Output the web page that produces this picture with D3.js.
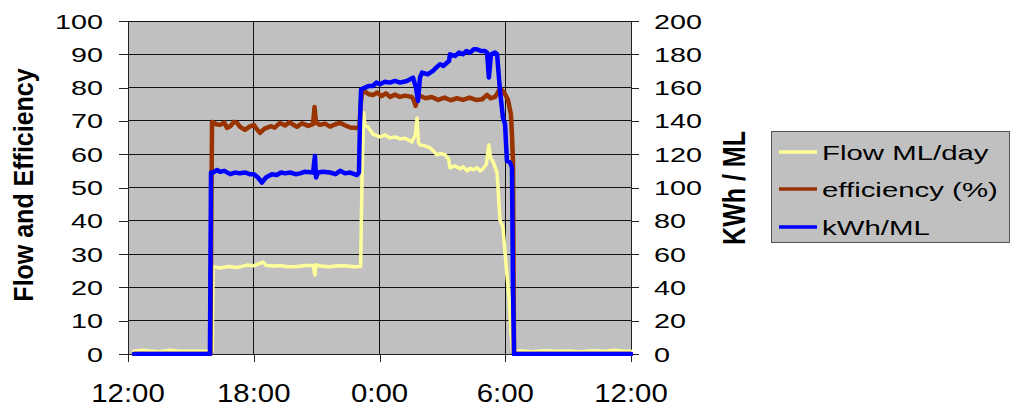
<!DOCTYPE html>
<html>
<head>
<meta charset="utf-8">
<script src="https://cdn.jsdelivr.net/npm/d3@7/dist/d3.min.js"></script>
<style>
  html, body { margin: 0; padding: 0; background: #ffffff; }
  svg { display: block; }
  text { font-family: "Liberation Sans", Arial, sans-serif; fill: #000; }
</style>
</head>
<body>
<svg id="chart" width="1012" height="407"></svg>
<script>
// ---- Data (hours since 12:00 noon) ----
const xTickHours = [0, 6, 12, 18, 24];
const xTickLabels = ["12:00", "18:00", "0:00", "6:00", "12:00"];
const leftTicks = [0, 10, 20, 30, 40, 50, 60, 70, 80, 90, 100];
const rightTicks = [0, 20, 40, 60, 80, 100, 120, 140, 160, 180, 200];
const seriesNames = ["Flow ML/day", "efficiency (%)", "kWh/ML"];

const flowT = [0.29, 0.7, 1.0, 1.5, 2.0, 2.5, 3.0, 3.5, 3.9, 4.02, 4.06, 4.4, 4.8, 5.2, 5.5, 5.68, 6.0, 6.44, 6.6, 7.0, 7.25, 7.6, 8.06, 8.5, 8.83, 8.92, 8.97, 9.16, 9.6, 10.0, 10.45, 10.8, 11.1, 11.17, 11.24, 11.31, 11.45, 11.69, 12.02, 12.26, 12.5, 12.74, 12.98, 13.22, 13.55, 13.72, 13.79, 13.86, 13.93, 14.17, 14.41, 14.6, 14.74, 14.9, 15.13, 15.3, 15.36, 15.6, 15.84, 15.98, 16.18, 16.32, 16.46, 16.65, 16.8, 16.94, 17.1, 17.22, 17.3, 17.42, 17.51, 17.61, 17.75, 17.89, 18.08, 18.18, 18.27, 18.35, 18.8, 19.3, 19.8, 20.4, 21.0, 21.6, 22.1, 22.7, 23.2, 23.6, 24.0];
const flowV = [0.8, 1.1, 0.9, 0.7, 1.1, 0.8, 0.9, 0.8, 0.9, 1.0, 26.2, 25.8, 26.3, 26.0, 26.4, 26.7, 26.5, 27.6, 26.6, 26.4, 26.6, 26.2, 26.3, 26.6, 26.6, 23.7, 26.8, 26.4, 26.2, 26.5, 26.4, 26.2, 26.3, 54, 72.5, 68.5, 68.2, 66.0, 65.2, 65.8, 64.9, 65.2, 64.6, 64.8, 63.7, 66.0, 70.9, 63.5, 62.8, 62.5, 61.9, 60.8, 59.8, 60.2, 59.8, 58.5, 55.9, 56.5, 55.6, 56.2, 55.0, 55.8, 55.3, 55.9, 55.0, 55.6, 57.0, 62.8, 59.0, 57.7, 56.2, 54.4, 40.2, 38.1, 23.7, 17.0, 6.3, 0.8, 0.9, 0.7, 1.0, 0.8, 0.9, 0.7, 1.0, 0.8, 1.1, 0.9, 0.8];

const effT = [0.29, 3.93, 3.98, 4.01, 4.06, 4.2, 4.4, 4.6, 4.72, 4.9, 5.05, 5.2, 5.35, 5.58, 5.8, 6.01, 6.15, 6.30, 6.5, 6.8, 7.0, 7.25, 7.5, 7.7, 8.06, 8.3, 8.6, 8.83, 8.9, 8.97, 9.16, 9.4, 9.64, 9.9, 10.12, 10.35, 10.6, 10.93, 11.05, 11.1, 11.17, 11.31, 11.5, 11.69, 11.9, 12.1, 12.3, 12.5, 12.74, 12.98, 13.22, 13.55, 13.65, 13.72, 13.8, 13.9, 14.2, 14.5, 14.8, 15.1, 15.4, 15.7, 15.98, 16.3, 16.6, 16.9, 17.13, 17.3, 17.51, 17.65, 17.75, 17.95, 18.13, 18.27, 18.32, 18.37, 18.40, 18.42, 24.0];
const effV = [0, 0, 45, 69.7, 69.7, 69.0, 68.8, 69.5, 67.9, 68.5, 69.7, 69.4, 68.2, 67.3, 68.3, 68.8, 67.5, 66.4, 67.6, 68.4, 68.0, 69.4, 68.6, 69.6, 68.2, 69.3, 68.5, 69.0, 74.2, 69.5, 68.8, 69.2, 68.3, 69.0, 69.4, 68.7, 68.0, 67.9, 68.5, 75, 78.4, 78.8, 78.0, 77.8, 78.5, 77.4, 78.3, 77.2, 77.9, 77.2, 77.6, 77.2, 76.0, 74.5, 76.5, 77.6, 76.8, 77.2, 76.3, 77.0, 76.2, 76.8, 76.3, 77.0, 76.3, 76.5, 77.8, 76.8, 77.2, 78.5, 79.8, 78.5, 76.3, 72, 66, 57.7, 20, 0, 0];

const kwhT = [0.29, 3.91, 3.96, 4.06, 4.25, 4.39, 4.6, 4.87, 5.1, 5.34, 5.6, 5.8, 6.01, 6.2, 6.39, 6.58, 6.87, 7.1, 7.3, 7.5, 7.73, 8.0, 8.21, 8.45, 8.83, 8.92, 8.97, 9.07, 9.3, 9.64, 9.9, 10.12, 10.35, 10.6, 10.93, 11.02, 11.07, 11.12, 11.31, 11.5, 11.69, 11.85, 12.02, 12.26, 12.5, 12.74, 12.98, 13.31, 13.6, 13.74, 13.84, 13.93, 14.03, 14.3, 14.55, 14.7, 14.89, 15.05, 15.22, 15.32, 15.36, 15.6, 15.8, 15.98, 16.15, 16.32, 16.5, 16.65, 16.85, 17.03, 17.13, 17.22, 17.32, 17.51, 17.61, 17.75, 17.89, 17.99, 18.08, 18.23, 18.32, 18.37, 18.42, 24.0];
const kwhV = [0, 0, 109, 109, 110.5, 109.5, 110, 108, 109, 108.5, 109, 108, 108, 106, 103, 106, 108, 107.5, 109, 108.5, 109, 108, 108.5, 109.5, 109, 119, 106, 109, 109.5, 109, 108, 110, 108.5, 109, 107.5, 109, 140, 159, 160, 161, 161, 163, 162, 163.5, 163, 164, 163, 164, 166, 160, 152, 166, 169, 168, 170, 172, 174, 173, 175, 176, 180, 179, 181, 180, 182, 181, 183, 183, 182, 182, 181, 166, 180, 181, 180, 158, 142, 138, 116, 115, 112, 40, 0, 0];

// ---- Layout ----
const svg = d3.select("#chart");
const plot = { left: 128, right: 631, top: 21, bottom: 354 };

const x = d3.scaleLinear().domain([0, 24]).range([plot.left, plot.right]);
const yL = d3.scaleLinear().domain([0, 100]).range([plot.bottom, plot.top]);
const yR = d3.scaleLinear().domain([0, 200]).range([plot.bottom, plot.top]);

// Background
svg.append("rect")
  .attr("x", plot.left).attr("y", plot.top)
  .attr("width", plot.right - plot.left).attr("height", plot.bottom - plot.top)
  .attr("fill", "#c0c0c0");

// Horizontal gridlines
svg.append("g").selectAll("line").data(leftTicks).join("line")
  .attr("x1", plot.left).attr("x2", plot.right)
  .attr("y1", d => yL(d)).attr("y2", d => yL(d))
  .attr("stroke", "#111").attr("stroke-width", 1).attr("shape-rendering", "crispEdges");

// Vertical gridlines
svg.append("g").selectAll("line").data(xTickHours).join("line")
  .attr("x1", d => x(d)).attr("x2", d => x(d))
  .attr("y1", plot.top).attr("y2", plot.bottom)
  .attr("stroke", "#111").attr("stroke-width", 1).attr("shape-rendering", "crispEdges");

// Axes (ticks)
const leftAxis = d3.axisLeft(yL).tickValues(leftTicks).tickSize(9).tickSizeOuter(0).tickFormat("");
const gl = svg.append("g").attr("transform", `translate(${plot.left},0)`).call(leftAxis);
const rightAxis = d3.axisRight(yR).tickValues(rightTicks).tickSize(8).tickSizeOuter(0).tickFormat("");
const gr = svg.append("g").attr("transform", `translate(${plot.right},0)`).call(rightAxis);
const bottomAxis = d3.axisBottom(x).tickValues(xTickHours).tickSize(8).tickSizeOuter(0).tickFormat("");
const gb = svg.append("g").attr("transform", `translate(0,${plot.bottom})`).call(bottomAxis);
[gl, gr, gb].forEach(g => {
  g.selectAll("path").attr("stroke", "#222").attr("shape-rendering", "crispEdges");
  g.selectAll("line").attr("stroke", "#222").attr("shape-rendering", "crispEdges");
});

// Tick labels
svg.append("g").selectAll("text").data(leftTicks).join("text")
  .attr("transform", d => `translate(103,${yL(d) + 7.5}) scale(1.37,1)`)
  .attr("text-anchor", "end").style("font-size", "21px").text(d => d);
svg.append("g").selectAll("text").data(rightTicks).join("text")
  .attr("transform", d => `translate(654,${yR(d) + 7.5}) scale(1.37,1)`)
  .attr("text-anchor", "start").style("font-size", "21px").text(d => d);
svg.append("g").selectAll("text").data(xTickHours).join("text")
  .attr("transform", (d, i) => `translate(${x(d)},402) scale(1.13,1)`)
  .attr("text-anchor", "middle").style("font-size", "26px").text((d, i) => xTickLabels[i]);

// Axis titles
svg.append("text")
  .attr("transform", "translate(33,185) scale(1.12,1) rotate(-90)")
  .attr("text-anchor", "middle").style("font-size", "25px").style("font-weight", "bold")
  .text("Flow and Efficiency");
svg.append("text")
  .attr("transform", "translate(745,188) scale(1.22,1) rotate(-90)")
  .attr("text-anchor", "middle").style("font-size", "25px").style("font-weight", "bold")
  .text("KWh / ML");

// Lines
svg.append("clipPath").attr("id", "clip").append("rect")
  .attr("x", plot.left).attr("y", plot.top - 4)
  .attr("width", plot.right - plot.left + 2).attr("height", plot.bottom - plot.top + 6);

const colors = ["#ffff99", "#993300", "#0000ff"];
const widths = [3.5, 4.5, 4.5];
const seriesData = [
  { t: flowT, v: flowV, y: yL },
  { t: effT, v: effV, y: yL },
  { t: kwhT, v: kwhV, y: yR }
];
const lg = svg.append("g").attr("clip-path", "url(#clip)");
seriesData.forEach((s, i) => {
  const pts = s.t.map((t, k) => [t, s.v[k]]);
  const line = d3.line().x(d => x(d[0])).y(d => s.y(d[1]));
  lg.append("path").datum(pts)
    .attr("d", line)
    .attr("fill", "none")
    .attr("stroke", colors[i])
    .attr("stroke-width", widths[i])
    .attr("stroke-linejoin", "round")
    .attr("stroke-linecap", "round");
});

// Legend
const leg = svg.append("g");
leg.append("rect")
  .attr("x", 771.5).attr("y", 131.5).attr("width", 238).attr("height", 111)
  .attr("fill", "#c0c0c0").attr("stroke", "#555").attr("stroke-width", 1);
const legY = [152, 189, 227];
seriesNames.forEach((name, i) => {
  leg.append("line")
    .attr("x1", 779).attr("x2", 817).attr("y1", legY[i]).attr("y2", legY[i])
    .attr("stroke", colors[i]).attr("stroke-width", 3.5);
  leg.append("text")
    .attr("transform", `translate(822,${legY[i] + 7.5}) scale(1.4,1)`)
    .style("font-size", "21px").text(name);
});
</script>
</body>
</html>
